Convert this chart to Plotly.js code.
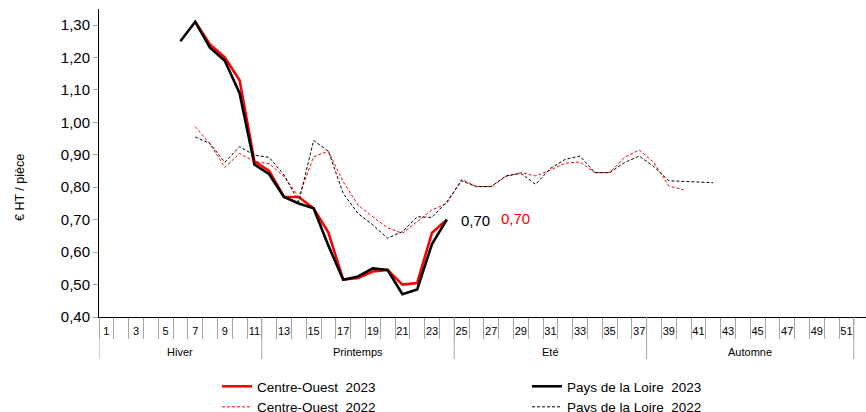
<!DOCTYPE html>
<html>
<head>
<meta charset="utf-8">
<script src="https://cdn.plot.ly/plotly-3.0.1.min.js"></script>
<style>html,body{margin:0;padding:0;background:#fff;}#chart{width:866px;height:412px;}</style>
</head>
<body>
<div id="chart"></div>
<script>
// ---- data ----
const weekLabels = ["1","3","5","7","9","11","13","15","17","19","21","23","25","27","29","31","33","35","37","39","41","43","45","47","49","51"];
const weekLabelPos = [1,3,5,7,9,11,13,15,17,19,21,23,25,27,29,31,33,35,37,39,41,43,45,47,49,51];
const allWeeks = [1,2,3,4,5,6,7,8,9,10,11,12,13,14,15,16,17,18,19,20,21,22,23,24,25,26,27,28,29,30,31,32,33,34,35,36,37,38,39,40,41,42,43,44,45,46,47,48,49,50,51];

const seasons = ["Hiver","Printemps","Eté","Automne"];
const seasonFirstWeek = [1,12,25,38];
const seasonLastWeek = [11,24,37,51];

const coWeeks2023 = [7,8,9,10,11,12,13,14,15,16,17,18,19,20,21,22,23,24];
const co2023 = [1.31,1.24,1.20,1.13,0.88,0.85,0.77,0.77,0.735,0.66,0.515,0.52,0.54,0.545,0.50,0.505,0.66,0.70];

const pdlWeeks2023 = [6,7,8,9,10,11,12,13,14,15,16,17,18,19,20,21,22,23,24];
const pdl2023 = [1.25,1.31,1.23,1.19,1.09,0.87,0.84,0.77,0.75,0.735,0.62,0.515,0.525,0.55,0.545,0.47,0.485,0.625,0.70];

const coWeeks2022 = [7,8,9,10,11,12,13,14,15,16,17,18,19,20,21,22,23,24,25,26,27,28,29,30,31,32,33,34,35,36,37,38,39,40];
const co2022 = [0.987,0.933,0.861,0.904,0.879,0.873,0.833,0.771,0.894,0.911,0.817,0.745,0.709,0.675,0.658,0.694,0.730,0.750,0.824,0.802,0.802,0.833,0.845,0.835,0.853,0.874,0.878,0.845,0.845,0.892,0.915,0.876,0.804,0.792];

const pdlWeeks2022 = [7,8,9,10,11,12,13,14,15,16,17,18,19,20,21,22,23,24,25,26,27,28,29,30,31,32,33,34,35,36,37,38,39,40,41,42];
const pdl2022 = [0.955,0.935,0.877,0.925,0.899,0.892,0.838,0.755,0.944,0.911,0.781,0.719,0.684,0.643,0.663,0.709,0.707,0.755,0.820,0.802,0.802,0.835,0.843,0.809,0.858,0.886,0.896,0.845,0.845,0.876,0.896,0.863,0.820,0.817,0.816,0.814];

const seriesNames = ["Centre-Ouest  2023","Pays de la Loire  2023","Centre-Ouest  2022","Pays de la Loire  2022"];

// ---- layout geometry ----
const W = 866, H = 412;
const M = {l: 99, r: 0, t: 9, b: 95};
const plotW = W - M.l - M.r, plotH = H - M.t - M.b;
const pxX = px => (px - M.l) / plotW;       // page px -> paper x
const pxY = py => (H - M.b - py) / plotH;   // page px -> paper y

const FONT = "Liberation Sans, Arial, sans-serif";
const RED = "#ff0000", BLACK = "#000000", GREY = "#a6a6a6";

const traces = [
  {x: coWeeks2023, y: co2023, name: seriesNames[0], type: "scatter", mode: "lines",
   line: {color: RED, width: 2.6}},
  {x: pdlWeeks2023, y: pdl2023, name: seriesNames[1], type: "scatter", mode: "lines",
   line: {color: BLACK, width: 2.6}},
  {x: coWeeks2022, y: co2022, name: seriesNames[2], type: "scatter", mode: "lines",
   line: {color: RED, width: 1, dash: "3px,2px"}},
  {x: pdlWeeks2022, y: pdl2022, name: seriesNames[3], type: "scatter", mode: "lines",
   line: {color: BLACK, width: 1, dash: "3px,2px"}}
];

const fmt = v => v.toFixed(2).replace(".", ",");

const annotations = [];
// data labels for the last 2023 points
annotations.push({x: pdlWeeks2023[pdlWeeks2023.length-1], y: pdl2023[pdl2023.length-1], xref: "x", yref: "y",
  text: fmt(pdl2023[pdl2023.length-1]), showarrow: false, xanchor: "center", yanchor: "middle",
  xshift: 29, yshift: -1, font: {family: FONT, size: 15, color: BLACK}});
annotations.push({x: coWeeks2023[coWeeks2023.length-1], y: co2023[co2023.length-1], xref: "x", yref: "y",
  text: fmt(co2023[co2023.length-1]), showarrow: false, xanchor: "center", yanchor: "middle",
  xshift: 69, yshift: 1, font: {family: FONT, size: 15, color: RED}});
// season labels
seasons.forEach((s, i) => {
  annotations.push({x: (seasonFirstWeek[i] + seasonLastWeek[i]) / 2, y: pxY(352), xref: "x", yref: "paper",
    text: s, showarrow: false, xanchor: "center", yanchor: "middle",
    font: {family: FONT, size: 11, color: "#000"}});
});
// y axis title
annotations.push({x: pxX(20), y: pxY(188), xref: "paper", yref: "paper", text: "€ HT / pièce",
  textangle: -90, showarrow: false, xanchor: "center", yanchor: "middle",
  font: {family: FONT, size: 12.5, color: "#000"}});

// season divider lines
const shapes = [];
const seasonBounds = [seasonFirstWeek[0] - 0.5].concat(seasonLastWeek.map(w => w + 0.5));
seasonBounds.forEach(b => {
  shapes.push({type: "line", xref: "x", yref: "paper", x0: b, x1: b, y0: 0, y1: pxY(359),
    line: {color: GREY, width: 1}});
});

const layout = {
  width: W, height: H,
  margin: M,
  paper_bgcolor: "#fff", plot_bgcolor: "#fff",
  separators: ", ",
  font: {family: FONT, color: "#000"},
  showlegend: true,
  xaxis: {
    range: [0.5, 0.5 + plotW / 14.8],
    showline: true, linecolor: BLACK, linewidth: 1,
    showgrid: false, zeroline: false,
    tickmode: "array", tickvals: weekLabelPos, ticktext: weekLabels,
    ticks: "", ticklabelstandoff: 4,
    tickfont: {family: FONT, size: 11, color: "#000"},
    minor: {tickmode: "array", tickvals: allWeeks.map(w => w + 0.5).concat([0.5]),
            ticks: "outside", ticklen: 21, tickcolor: GREY, tickwidth: 1, showgrid: false},
    fixedrange: true
  },
  yaxis: {
    range: [0.40, 0.40 + plotH / 324.4],
    showline: true, linecolor: BLACK, linewidth: 1,
    showgrid: false, zeroline: false,
    tickmode: "linear", tick0: 0.4, dtick: 0.1, tickformat: ".2f",
    ticks: "outside", ticklen: 5, tickcolor: GREY, tickwidth: 1,
    tickfont: {family: FONT, size: 15, color: "#000"},
    fixedrange: true
  },
  legend: {
    orientation: "h", xref: "container", yref: "container",
    x: 217 / W, y: 1 - 371 / H, xanchor: "left", yanchor: "top",
    entrywidth: 265, traceorder: "normal",
    font: {family: FONT, size: 13.5, color: "#000"},
    bgcolor: "rgba(0,0,0,0)"
  },
  annotations: annotations,
  shapes: shapes
};

Plotly.newPlot("chart", traces, layout, {displayModeBar: false, staticPlot: true});
</script>
</body>
</html>
